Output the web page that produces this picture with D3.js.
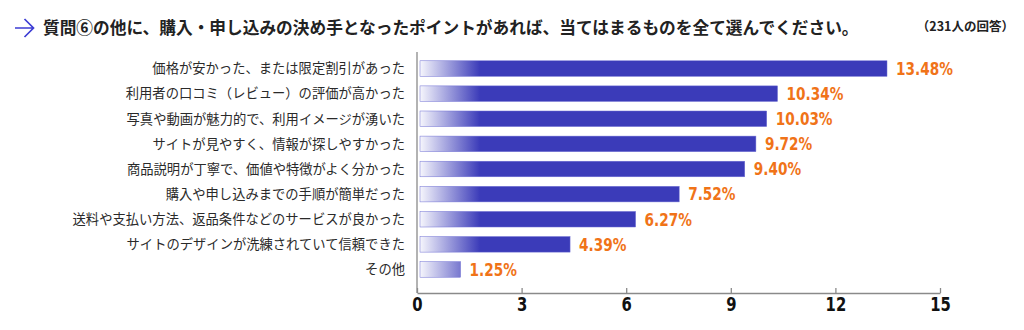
<!DOCTYPE html>
<html>
<head>
<meta charset="utf-8">
<script src="https://cdn.jsdelivr.net/npm/d3@7"></script>
<style>
  html, body { margin: 0; padding: 0; background: #fff; }
  svg { display: block; }
  .jp { font-family: "Noto Sans CJK JP", "Noto Sans", sans-serif; }
  .num { font-family: "DejaVu Sans", sans-serif; font-weight: bold; }
</style>
</head>
<body>
<svg id="chart" width="1024" height="330"></svg>
<script>
// Survey answers (231 respondents), share of selections in %
const categories = [
  "価格が安かった、または限定割引があった",
  "利用者の口コミ（レビュー）の評価が高かった",
  "写真や動画が魅力的で、利用イメージが湧いた",
  "サイトが見やすく、情報が探しやすかった",
  "商品説明が丁寧で、価値や特徴がよく分かった",
  "購入や申し込みまでの手順が簡単だった",
  "送料や支払い方法、返品条件などのサービスが良かった",
  "サイトのデザインが洗練されていて信頼できた",
  "その他"
];
const values = [13.48, 10.34, 10.03, 9.72, 9.40, 7.52, 6.27, 4.39, 1.25];
const xTicks = [0, 3, 6, 9, 12, 15];

const titleText = "質問⑥の他に、購入・申し込みの決め手となったポイントがあれば、当てはまるものを全て選んでください。";
const noteText = "（231人の回答）";

const svg = d3.select("#chart");

const plot = { left: 417, right: 940, top: 52, bottom: 293 };

const x = d3.scaleLinear().domain([0, 15]).range([plot.left, plot.right]);
const y = d3.scaleBand().domain(categories).range([56, 282]).paddingInner(0.38).paddingOuter(0.19);

// narrow numeric lettering: squeeze glyphs horizontally around their anchor
const squeeze = 0.78;

// gradient that fades in over the first part of each bar
const defs = svg.append("defs");
const grad = defs.append("linearGradient")
  .attr("id", "barFade")
  .attr("gradientUnits", "userSpaceOnUse")
  .attr("x1", plot.left + 3).attr("x2", plot.left + 63)
  .attr("y1", 0).attr("y2", 0);
grad.append("stop").attr("offset", "0%").attr("stop-color", "#f6f6fc");
grad.append("stop").attr("offset", "100%").attr("stop-color", "#3b3bb9");

// title
svg.append("path")
  .attr("d", "M15,28 L33,28 M24.5,19 L33.5,28 L24.5,37")
  .attr("fill", "none")
  .attr("stroke", "#3c3cd4")
  .attr("stroke-width", 1.7);

svg.append("text")
  .attr("class", "jp")
  .attr("x", 43).attr("y", 34)
  .attr("font-size", 16.7)
  .attr("font-weight", "bold")
  .attr("fill", "#222")
  .text(titleText);

svg.append("text")
  .attr("class", "jp")
  .attr("x", 1014).attr("y", 31)
  .attr("text-anchor", "end")
  .attr("font-size", 12.5)
  .attr("font-weight", "bold")
  .attr("fill", "#222")
  .text(noteText);

// bars
svg.append("g")
  .selectAll("rect")
  .data(values)
  .join("rect")
  .attr("x", x(0) + 3)
  .attr("y", (d, i) => y(categories[i]))
  .attr("width", d => x(d) - x(0) - 3)
  .attr("height", y.bandwidth())
  .attr("fill", "url(#barFade)")
  .attr("stroke", "#7070d4")
  .attr("stroke-width", 0.5);

// value labels
svg.append("g")
  .selectAll("text")
  .data(values)
  .join("text")
  .attr("class", "num")
  .attr("transform", (d, i) => `translate(${x(d) + 9},${y(categories[i]) + y.bandwidth() / 2}) scale(${squeeze},1)`)
  .attr("dy", "0.36em")
  .attr("font-size", 17.5)
  .attr("fill", "#f07318")
  .text(d => d.toFixed(2) + "%");

// category labels
svg.append("g")
  .selectAll("text")
  .data(categories)
  .join("text")
  .attr("class", "jp")
  .attr("x", 405)
  .attr("y", d => y(d) + y.bandwidth() / 2)
  .attr("dy", "0.36em")
  .attr("text-anchor", "end")
  .attr("font-size", 13.3)
  .attr("fill", "#2a2a2a")
  .text(d => d);

// axes
const xAxis = d3.axisBottom(x).tickValues(xTicks).tickSizeInner(-5).tickSizeOuter(0).tickPadding(5);
const gx = svg.append("g")
  .attr("transform", `translate(0,${plot.bottom})`)
  .call(xAxis);
gx.select(".domain").attr("stroke", "#8a8a8a").attr("stroke-width", 1.3);
gx.selectAll(".tick line").attr("stroke", "#8a8a8a").attr("stroke-width", 1.3);
gx.selectAll(".tick text")
  .attr("class", "num")
  .attr("font-size", 19)
  .attr("fill", "#111")
  .attr("transform", `scale(${squeeze},1)`);

svg.append("line")
  .attr("x1", plot.left).attr("x2", plot.left)
  .attr("y1", plot.top).attr("y2", plot.bottom)
  .attr("stroke", "#8a8a8a")
  .attr("stroke-width", 1.3);
</script>
</body>
</html>
